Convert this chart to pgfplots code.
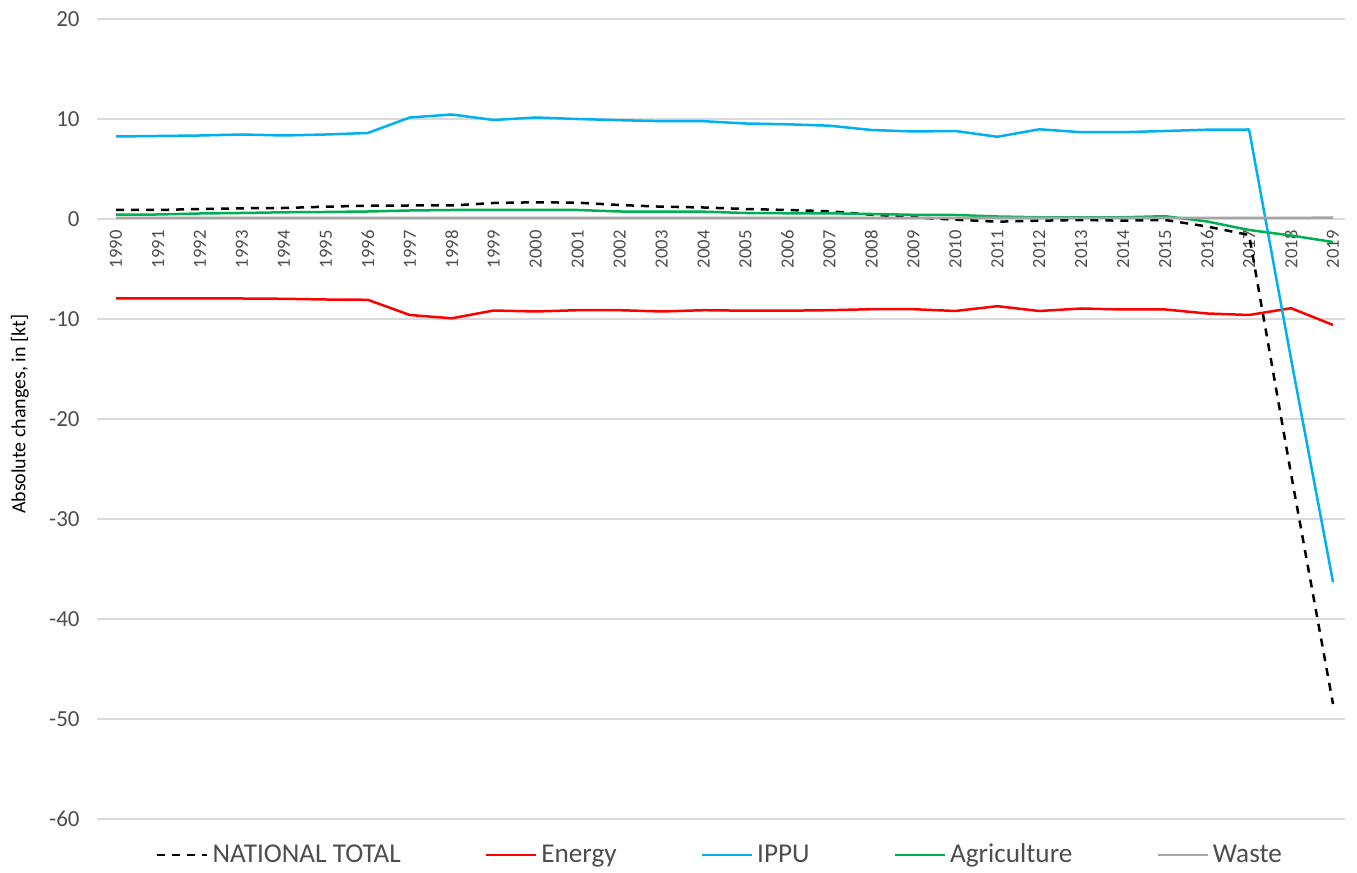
\documentclass[border=0pt]{standalone}
\usepackage{pgfplots}
\pgfplotsset{compat=1.18}
\usepackage{pgfplotstable}
\usepackage{fontspec}
\setmainfont{Carlito}
\definecolor{ippu}{HTML}{00B0F0}
\definecolor{agri}{HTML}{00B050}
\definecolor{waste}{HTML}{A5A5A5}
\definecolor{energy}{HTML}{FF0000}
\definecolor{grid}{HTML}{D9D9D9}
\definecolor{txt}{HTML}{4D4D4D}

\pgfplotstableread{
idx year total energy ippu agri waste
0 1990 0.90 -7.95 8.25 0.43 0.10
1 1991 0.90 -7.95 8.30 0.45 0.10
2 1992 1.00 -7.95 8.35 0.55 0.10
3 1993 1.07 -7.95 8.45 0.60 0.10
4 1994 1.10 -7.98 8.35 0.67 0.10
5 1995 1.23 -8.05 8.45 0.70 0.10
6 1996 1.33 -8.08 8.60 0.75 0.10
7 1997 1.35 -9.60 10.15 0.85 0.10
8 1998 1.35 -9.93 10.45 0.90 0.10
9 1999 1.60 -9.15 9.90 0.90 0.10
10 2000 1.67 -9.25 10.15 0.90 0.10
11 2001 1.63 -9.12 10.00 0.90 0.10
12 2002 1.40 -9.12 9.88 0.75 0.10
13 2003 1.23 -9.25 9.78 0.73 0.10
14 2004 1.15 -9.12 9.78 0.73 0.10
15 2005 1.00 -9.17 9.55 0.60 0.10
16 2006 0.90 -9.17 9.47 0.57 0.10
17 2007 0.77 -9.12 9.33 0.57 0.10
18 2008 0.43 -9.02 8.90 0.50 0.10
19 2009 0.17 -9.02 8.75 0.42 0.10
20 2010 -0.07 -9.20 8.80 0.40 0.10
21 2011 -0.27 -8.72 8.22 0.25 0.10
22 2012 -0.17 -9.20 8.97 0.17 0.10
23 2013 -0.10 -8.95 8.68 0.17 0.10
24 2014 -0.17 -9.05 8.68 0.17 0.10
25 2015 -0.10 -9.05 8.80 0.28 0.10
26 2016 -0.75 -9.45 8.93 -0.25 0.10
27 2017 -1.60 -9.60 8.95 -1.10 0.10
28 2018 -25.5 -8.92 -14.0 -1.65 0.10
29 2019 -48.5 -10.6 -36.3 -2.30 0.15
}\datatable

\begin{document}
\begin{tikzpicture}
\begin{axis}[
  scale only axis,
  width=624pt, height=400pt,
  xmin=-0.453, xmax=29.286,
  ymin=-60, ymax=20,
  ytick={-60,-50,...,20},
  xtick={0,...,29},
  xticklabels={1990,1991,1992,1993,1994,1995,1996,1997,1998,1999,2000,2001,2002,2003,2004,2005,2006,2007,2008,2009,2010,2011,2012,2013,2014,2015,2016,2017,2018,2019},
  axis x line*=middle,
  axis y line*=left,
  axis line style={draw=none},
  tick style={draw=none},
  ymajorgrids,
  grid style={color=grid, line width=0.7pt},
  /pgf/number format/assume math mode=true,
  yticklabel style={font=\fontsize{11.5}{13}\selectfont, text=txt, anchor=east, inner sep=0pt, xshift=-8.5pt},
  xticklabel style={font=\fontsize{9.3}{10}\selectfont, text=txt, rotate=90, anchor=east, inner sep=0pt, xshift=-5.5pt},
  ylabel={Absolute changes, in [kt]},
  ylabel style={font=\fontsize{10}{12}\selectfont, text=black, at={(axis description cs:-0.0617,0.506)}, anchor=center},
  legend columns=5,
  legend style={at={(0.5,-0.045)}, anchor=center, draw=none, fill=none,
    font=\fontsize{13.6}{15}\selectfont, text=txt,
    /tikz/every even column/.append style={column sep=40pt},
    /tikz/every odd column/.append style={column sep=0pt}},
  legend image code/.code={\draw[#1] (0pt,0pt) -- (25pt,0pt);},
  every axis plot/.append style={line width=1.25pt, line join=round},
]
\coordinate (O) at (rel axis cs:0,0);
\coordinate (T) at (rel axis cs:1,1);
\addplot[black, dash pattern=on 4pt off 3.5pt] table[x=idx, y=total] {\datatable};
\addlegendentry{NATIONAL TOTAL}
\addplot[energy] table[x=idx, y=energy] {\datatable};
\addlegendentry{Energy}
\addplot[ippu] table[x=idx, y=ippu] {\datatable};
\addlegendentry{IPPU}
\addplot[agri] table[x=idx, y=agri] {\datatable};
\addlegendentry{Agriculture}
\addplot[waste] table[x=idx, y=waste] {\datatable};
\addlegendentry{Waste}
\end{axis}
\pgfresetboundingbox
\path[use as bounding box] ([shift={(-48.5pt,-26.5pt)}]O) rectangle ([shift={(6pt,9.5pt)}]T);
\end{tikzpicture}
\end{document}
